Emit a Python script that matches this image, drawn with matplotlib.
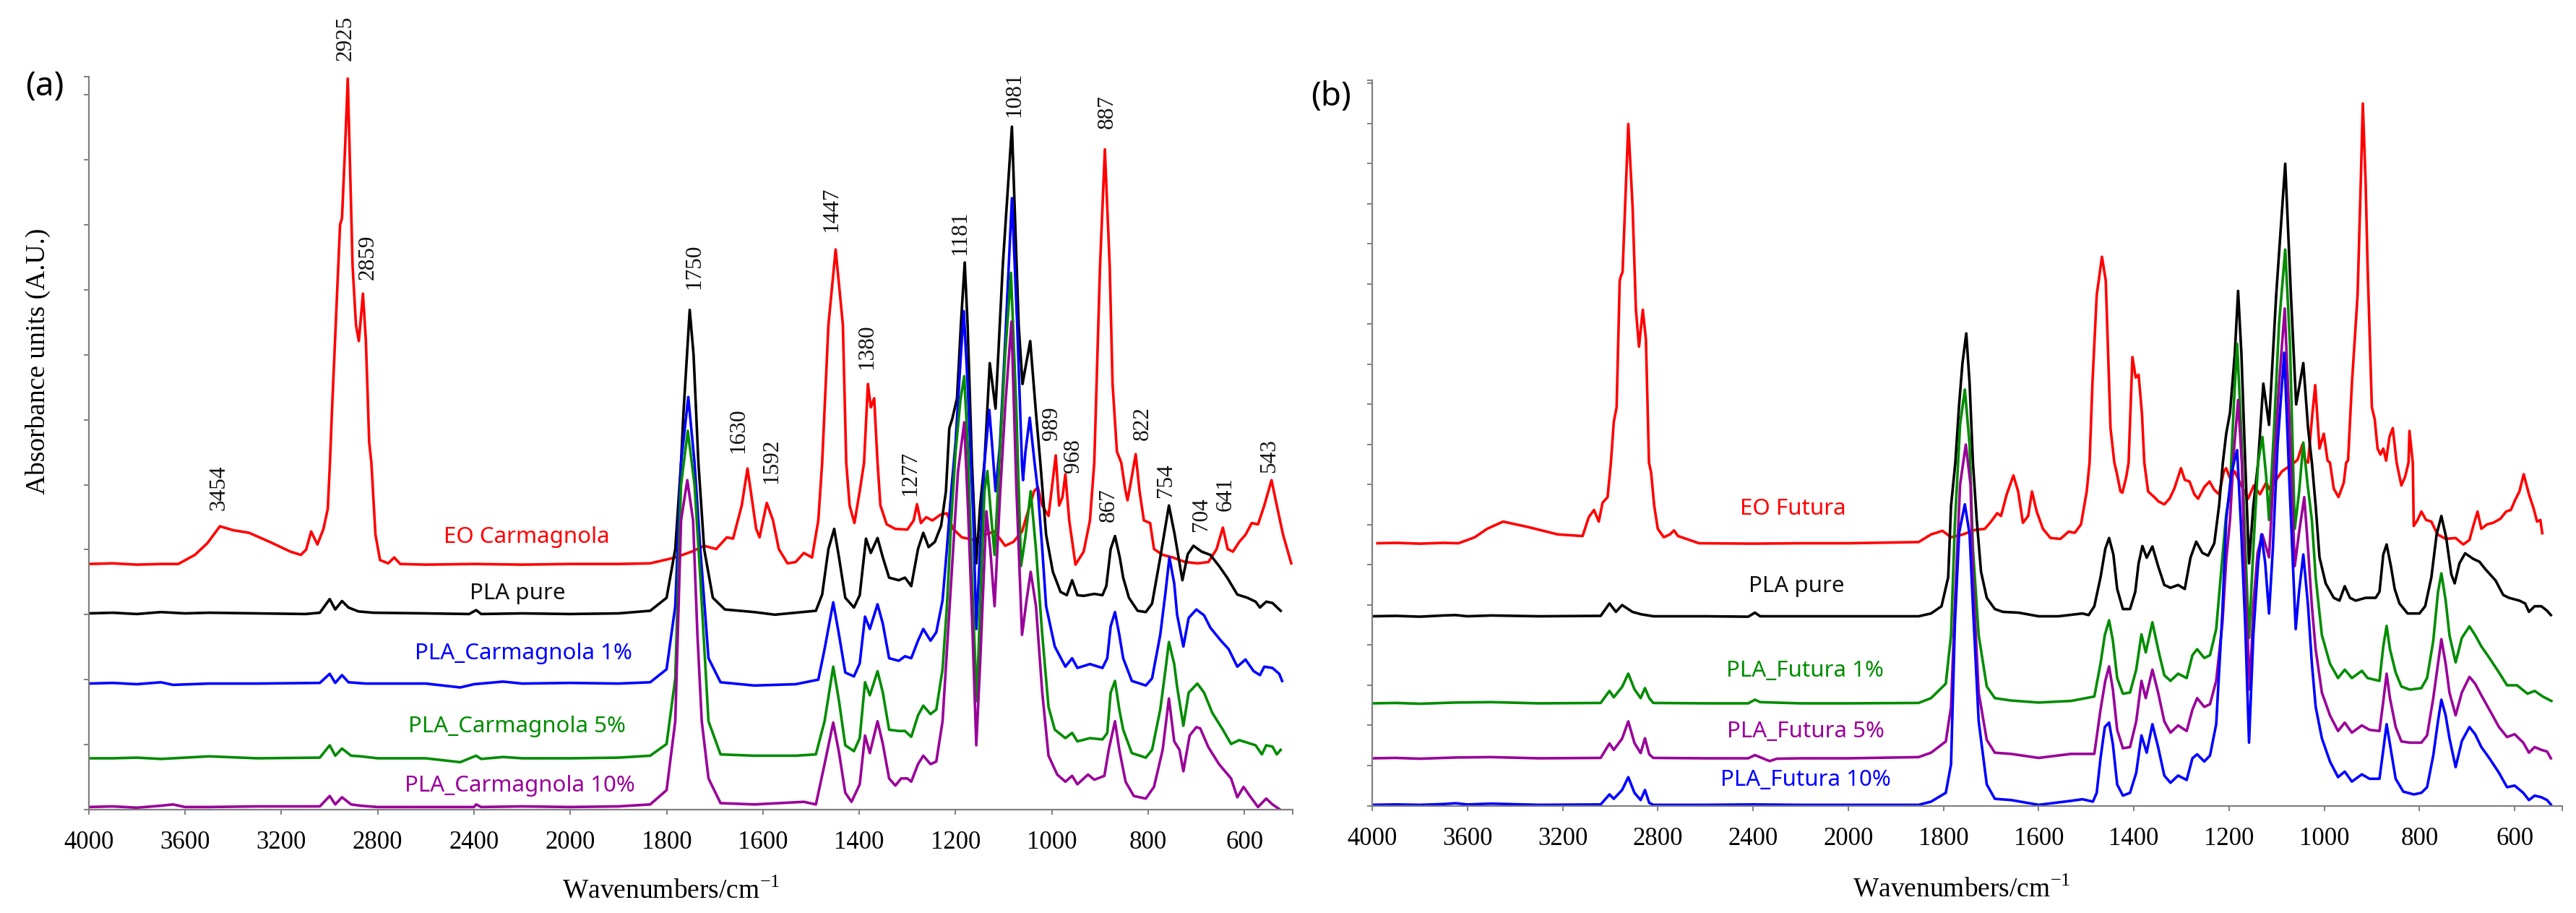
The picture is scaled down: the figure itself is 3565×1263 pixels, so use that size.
import numpy as np
import matplotlib
matplotlib.use("Agg")
import matplotlib.pyplot as plt

# Spectra: (wavenumber cm-1, absorbance in arbitrary units)
# ---- panel (a): Carmagnola ----
A_EO = [(4000, 3.78), (3900, 3.79), (3800, 3.77), (3700, 3.78), (3628, 3.78), (3559, 3.92), (3507, 4.10),
        (3455, 4.36), (3400, 4.30), (3334, 4.26), (3248, 4.12), (3162, 3.97), (3119, 3.92), (3097, 4.00),
        (3076, 4.28), (3050, 4.08), (3025, 4.32), (3007, 4.63), (2998, 5.34), (2990, 6.10), (2969, 7.90),
        (2956, 9.00), (2948, 9.10), (2935, 10.2), (2924, 11.25), (2904, 8.37), (2890, 7.46), (2878, 7.21),
        (2861, 7.94), (2849, 7.23), (2835, 5.65), (2826, 5.34), (2809, 4.23), (2790, 3.84), (2756, 3.79),
        (2731, 3.88), (2706, 3.78), (2600, 3.77), (2400, 3.78), (2200, 3.77), (2000, 3.78), (1900, 3.78),
        (1834, 3.79), (1782, 3.88), (1748, 3.97), (1722, 4.06), (1697, 4.01), (1675, 4.19), (1662, 4.17),
        (1644, 4.68), (1632, 5.25), (1614, 4.32), (1607, 4.19), (1592, 4.72), (1579, 4.45), (1567, 4.01),
        (1549, 3.79), (1532, 3.81), (1515, 3.95), (1498, 3.88), (1485, 4.45), (1477, 5.34), (1464, 7.46),
        (1449, 8.62), (1434, 7.46), (1427, 5.34), (1420, 4.68), (1410, 4.41), (1399, 4.90), (1390, 5.34),
        (1382, 6.55), (1376, 6.19), (1369, 6.33), (1362, 5.34), (1356, 4.68), (1343, 4.39), (1325, 4.32),
        (1300, 4.31), (1287, 4.45), (1280, 4.70), (1272, 4.41), (1261, 4.50), (1248, 4.45), (1231, 4.54),
        (1218, 4.56), (1205, 4.32), (1187, 4.19), (1161, 4.15), (1144, 4.22), (1119, 4.28), (1097, 4.06),
        (1080, 4.12), (1062, 4.28), (1045, 4.70), (1037, 4.90), (1029, 4.96), (1020, 4.68), (1007, 4.52),
        (992, 5.45), (985, 4.68), (978, 4.81), (972, 5.16), (964, 4.45), (951, 3.77), (934, 3.97),
        (921, 4.45), (912, 5.34), (900, 8.37), (890, 10.16), (880, 8.37), (874, 6.55), (865, 5.51),
        (856, 5.34), (848, 4.94), (843, 4.76), (837, 5.00), (826, 5.47), (818, 4.90), (809, 4.45),
        (796, 4.41), (788, 4.01), (770, 3.92), (749, 3.88), (723, 3.81), (697, 3.79), (675, 3.81),
        (658, 4.01), (645, 4.34), (635, 4.01), (624, 3.97), (611, 4.12), (598, 4.23), (585, 4.41),
        (572, 4.39), (559, 4.68), (544, 5.07), (533, 4.68), (520, 4.23), (503, 3.79)]

A_PLA = [(4000, 3.02), (3900, 3.03), (3800, 3.01), (3700, 3.04), (3600, 3.02), (3500, 3.03), (3300, 3.02),
         (3100, 3.01), (3040, 3.03), (2999, 3.24), (2976, 3.08), (2948, 3.21), (2921, 3.11), (2880, 3.05),
         (2817, 3.03), (2600, 3.02), (2420, 3.01), (2391, 3.07), (2370, 3.01), (2200, 3.02), (2000, 3.01),
         (1900, 3.02), (1834, 3.06), (1800, 3.26), (1782, 4.01), (1770, 5.34), (1765, 6.10), (1752, 7.69),
         (1744, 7.00), (1734, 5.34), (1722, 4.01), (1704, 3.26), (1679, 3.08), (1618, 3.04), (1575, 3.00),
         (1490, 3.06), (1477, 3.31), (1464, 4.01), (1452, 4.32), (1442, 3.88), (1429, 3.26), (1411, 3.11),
         (1399, 3.30), (1386, 4.17), (1376, 3.95), (1362, 4.18), (1351, 3.88), (1338, 3.57), (1318, 3.53),
         (1305, 3.57), (1292, 3.44), (1278, 4.01), (1267, 4.26), (1256, 4.04), (1243, 4.12), (1230, 4.37),
         (1220, 4.90), (1213, 5.87), (1207, 6.01), (1197, 6.33), (1189, 7.46), (1181, 8.42), (1175, 7.46),
         (1166, 5.34), (1157, 3.79), (1149, 4.68), (1140, 5.34), (1129, 6.87), (1117, 6.17), (1102, 8.37),
         (1083, 10.51), (1069, 7.46), (1061, 6.55), (1045, 7.21), (1033, 6.10), (1024, 5.34), (1012, 4.23),
         (998, 3.66), (982, 3.35), (969, 3.30), (958, 3.53), (947, 3.30), (934, 3.29), (912, 3.32),
         (895, 3.30), (887, 3.44), (878, 4.01), (869, 4.21), (859, 3.88), (852, 3.57), (840, 3.26),
         (822, 3.06), (805, 3.04), (792, 3.17), (775, 3.88), (757, 4.68), (745, 4.23), (729, 3.53),
         (718, 3.93), (706, 4.06), (689, 3.97), (671, 3.92), (653, 3.75), (636, 3.57), (615, 3.31),
         (594, 3.26), (577, 3.20), (568, 3.11), (555, 3.20), (542, 3.18), (525, 3.06)]

A_C1 = [(4000, 1.94), (3900, 1.95), (3800, 1.93), (3700, 1.96), (3650, 1.92), (3500, 1.94), (3300, 1.94),
        (3040, 1.95), (2999, 2.09), (2976, 1.95), (2948, 2.07), (2921, 1.96), (2850, 1.94), (2600, 1.94),
        (2457, 1.88), (2400, 1.93), (2279, 1.97), (2200, 1.94), (2000, 1.95), (1900, 1.94), (1834, 1.96),
        (1800, 2.16), (1782, 3.13), (1770, 5.34), (1755, 6.35), (1742, 5.34), (1730, 4.01), (1713, 2.33),
        (1688, 1.96), (1618, 1.91), (1532, 1.93), (1485, 2.00), (1472, 2.47), (1454, 3.19), (1442, 2.69),
        (1429, 2.11), (1411, 2.05), (1399, 2.25), (1388, 2.97), (1378, 2.78), (1362, 3.16), (1351, 2.86),
        (1338, 2.33), (1318, 2.29), (1305, 2.36), (1292, 2.33), (1278, 2.60), (1267, 2.78), (1252, 2.60),
        (1240, 2.73), (1227, 3.22), (1218, 4.01), (1209, 4.90), (1200, 5.65), (1189, 7.00), (1183, 7.67),
        (1175, 6.55), (1166, 5.00), (1163, 4.45), (1157, 2.78), (1149, 4.01), (1140, 5.34), (1130, 6.15),
        (1124, 5.60), (1117, 4.90), (1108, 5.60), (1097, 7.20), (1083, 9.41), (1072, 7.46), (1062, 5.30),
        (1060, 5.07), (1055, 5.50), (1046, 6.03), (1036, 5.34), (1029, 4.90), (1020, 4.01), (1012, 3.13),
        (994, 2.51), (972, 2.20), (958, 2.33), (947, 2.18), (921, 2.24), (895, 2.18), (885, 2.33),
        (878, 2.82), (869, 3.04), (860, 2.69), (852, 2.33), (834, 1.98), (817, 1.94), (805, 1.91),
        (792, 2.02), (775, 2.69), (764, 3.35), (756, 3.88), (746, 3.48), (740, 3.00), (727, 2.51),
        (716, 2.95), (700, 3.08), (684, 2.99), (671, 2.80), (649, 2.60), (633, 2.47), (615, 2.20),
        (598, 2.31), (581, 2.13), (568, 2.07), (559, 2.20), (542, 2.18), (528, 2.09), (522, 1.98)]

A_C5 = [(4000, 0.79), (3900, 0.79), (3800, 0.80), (3700, 0.78), (3600, 0.80), (3500, 0.82), (3300, 0.79),
        (3040, 0.80), (2999, 0.99), (2976, 0.83), (2948, 0.94), (2910, 0.83), (2870, 0.82), (2800, 0.79),
        (2600, 0.79), (2457, 0.73), (2391, 0.83), (2370, 0.78), (2279, 0.81), (2200, 0.79), (2000, 0.79),
        (1900, 0.80), (1834, 0.83), (1800, 1.01), (1782, 2.02), (1770, 5.00), (1756, 5.83), (1742, 5.00),
        (1730, 3.57), (1713, 1.36), (1688, 0.85), (1618, 0.83), (1532, 0.83), (1490, 0.85), (1472, 1.36),
        (1454, 2.20), (1442, 1.67), (1429, 0.99), (1411, 0.90), (1399, 1.10), (1388, 1.96), (1378, 1.76),
        (1362, 2.13), (1351, 1.80), (1338, 1.23), (1318, 1.21), (1305, 1.21), (1292, 1.12), (1278, 1.45),
        (1267, 1.60), (1252, 1.47), (1240, 1.54), (1227, 2.16), (1218, 3.13), (1209, 4.45), (1200, 5.50),
        (1190, 6.30), (1182, 6.67), (1174, 5.50), (1166, 3.57), (1156, 1.67), (1149, 3.13), (1140, 4.90),
        (1134, 5.21), (1126, 4.50), (1119, 3.92), (1108, 5.50), (1097, 7.00), (1085, 8.26), (1074, 6.20),
        (1064, 3.75), (1055, 4.20), (1044, 4.90), (1033, 4.00), (1020, 2.69), (1007, 1.58), (994, 1.23),
        (972, 1.10), (958, 1.18), (947, 1.05), (921, 1.10), (895, 1.08), (885, 1.18), (878, 1.80),
        (869, 1.98), (860, 1.54), (852, 1.23), (834, 0.87), (805, 0.80), (792, 0.92), (775, 1.54),
        (764, 2.16), (757, 2.58), (746, 2.24), (740, 1.89), (727, 1.29), (716, 1.80), (698, 1.94),
        (684, 1.80), (667, 1.49), (645, 1.23), (628, 1.01), (611, 1.07), (594, 1.03), (577, 0.99),
        (564, 0.85), (555, 0.99), (542, 0.97), (533, 0.85), (525, 0.92)]

A_C10 = [(4000, 0.04), (3900, 0.05), (3800, 0.03), (3700, 0.06), (3650, 0.08), (3600, 0.04), (3500, 0.04),
         (3300, 0.05), (3040, 0.05), (2999, 0.21), (2976, 0.08), (2948, 0.19), (2910, 0.08), (2870, 0.06),
         (2800, 0.04), (2600, 0.04), (2400, 0.04), (2391, 0.08), (2370, 0.04), (2200, 0.05), (2000, 0.04),
         (1900, 0.05), (1834, 0.08), (1800, 0.30), (1782, 1.36), (1770, 4.45), (1757, 5.07), (1745, 4.45),
         (1736, 2.69), (1727, 1.36), (1713, 0.48), (1688, 0.10), (1618, 0.08), (1515, 0.12), (1490, 0.08),
         (1472, 0.70), (1454, 1.34), (1442, 0.88), (1429, 0.26), (1416, 0.12), (1399, 0.39), (1388, 1.14),
         (1378, 0.87), (1362, 1.36), (1351, 1.01), (1338, 0.48), (1325, 0.37), (1313, 0.48), (1300, 0.48),
         (1292, 0.43), (1278, 0.70), (1267, 0.83), (1252, 0.70), (1240, 0.74), (1227, 1.36), (1216, 2.69),
         (1205, 4.01), (1195, 5.20), (1182, 5.96), (1174, 4.60), (1166, 3.00), (1157, 0.99), (1149, 2.25),
         (1136, 4.59), (1128, 4.01), (1119, 3.13), (1108, 4.80), (1097, 6.20), (1084, 7.51), (1074, 5.00),
         (1062, 2.69), (1053, 3.20), (1044, 3.66), (1033, 3.13), (1020, 1.80), (1007, 0.83), (989, 0.54),
         (972, 0.43), (958, 0.52), (947, 0.39), (925, 0.54), (912, 0.46), (891, 0.52), (882, 0.92),
         (869, 1.36), (860, 0.92), (847, 0.43), (830, 0.21), (805, 0.17), (788, 0.35), (770, 0.92),
         (757, 1.71), (746, 1.05), (735, 0.92), (727, 0.59), (714, 1.14), (700, 1.27), (692, 1.25),
         (675, 0.96), (653, 0.70), (628, 0.48), (615, 0.19), (602, 0.35), (589, 0.21), (572, 0.04),
         (555, 0.17), (542, 0.08), (528, 0.01)]

# ---- panel (b): Futura ----
B_EO = [(3978, 6.54), (3900, 6.55), (3800, 6.53), (3700, 6.55), (3638, 6.54), (3600, 6.62), (3569, 6.69),
        (3517, 6.90), (3450, 7.08), (3342, 6.94), (3220, 6.76), (3116, 6.72), (3090, 7.19), (3068, 7.37),
        (3048, 7.08), (3032, 7.55), (3011, 7.69), (2997, 8.55), (2985, 9.56), (2973, 9.93), (2960, 13.09),
        (2955, 13.20), (2948, 13.30), (2924, 16.99), (2906, 14.93), (2892, 12.36), (2879, 11.44),
        (2863, 12.36), (2850, 11.62), (2837, 8.55), (2828, 8.30), (2815, 7.47), (2800, 6.90), (2775, 6.69),
        (2749, 6.76), (2732, 6.86), (2715, 6.72), (2671, 6.63), (2627, 6.54), (2400, 6.53), (2200, 6.54),
        (2000, 6.54), (1852, 6.57), (1826, 6.76), (1802, 6.85), (1784, 6.69), (1759, 6.76), (1734, 6.87),
        (1713, 6.90), (1700, 7.08), (1687, 7.29), (1679, 7.22), (1667, 7.76), (1653, 8.23), (1643, 7.83),
        (1633, 7.05), (1622, 7.22), (1614, 7.83), (1604, 7.33), (1591, 6.90), (1575, 6.67), (1554, 6.65),
        (1537, 6.83), (1524, 6.80), (1511, 7.01), (1499, 7.83), (1493, 8.55), (1487, 10.52), (1478, 12.72),
        (1467, 13.68), (1459, 13.09), (1449, 9.41), (1441, 8.55), (1436, 8.30), (1428, 7.83), (1424, 7.80),
        (1416, 8.19), (1411, 8.55), (1403, 11.18), (1396, 10.67), (1390, 10.74), (1383, 9.78), (1378, 8.55),
        (1370, 7.83), (1357, 7.69), (1348, 7.58), (1336, 7.51), (1325, 7.65), (1315, 7.90), (1307, 8.19),
        (1301, 8.41), (1293, 8.12), (1283, 8.08), (1273, 7.76), (1265, 7.65), (1252, 7.94), (1241, 8.08),
        (1231, 7.87), (1221, 7.76), (1211, 8.33), (1206, 8.41), (1198, 8.16), (1188, 8.33), (1175, 8.00),
        (1160, 7.65), (1148, 7.98), (1135, 7.76), (1122, 8.05), (1114, 7.87), (1101, 8.12), (1089, 8.33),
        (1076, 8.44), (1063, 8.55), (1056, 8.62), (1046, 9.00), (1040, 8.60), (1034, 8.55), (1026, 9.63),
        (1019, 10.48), (1010, 8.90), (1001, 9.27), (993, 8.60), (988, 8.55), (980, 7.90), (970, 7.69),
        (959, 8.05), (954, 8.55), (950, 8.60), (942, 10.50), (930, 12.72), (923, 15.66), (919, 17.50),
        (913, 15.50), (909, 13.46), (900, 9.93), (894, 9.63), (888, 8.90), (882, 8.75), (876, 8.90),
        (870, 8.60), (863, 9.19), (856, 9.41), (848, 8.55), (838, 7.98), (830, 8.20), (823, 8.55),
        (821, 9.34), (814, 8.55), (812, 6.97), (804, 7.12), (796, 7.33), (786, 7.12), (775, 7.08),
        (762, 6.76), (745, 6.65), (724, 6.67), (708, 6.51), (695, 6.62), (687, 6.97), (678, 7.33),
        (670, 6.90), (658, 7.01), (645, 7.05), (630, 7.15), (618, 7.33), (608, 7.37), (599, 7.62),
        (590, 7.83), (581, 8.26), (570, 7.76), (560, 7.40), (553, 7.08), (546, 7.12), (542, 6.79)]

B_PLA = [(4000, 4.72), (3900, 4.73), (3800, 4.71), (3700, 4.74), (3650, 4.75), (3600, 4.72), (3500, 4.74),
         (3300, 4.72), (3040, 4.73), (3003, 5.04), (2976, 4.83), (2950, 5.00), (2907, 4.83), (2870, 4.77),
         (2819, 4.72), (2600, 4.72), (2420, 4.71), (2392, 4.81), (2370, 4.72), (2200, 4.72), (2000, 4.72),
         (1852, 4.72), (1826, 4.79), (1804, 4.97), (1790, 5.69), (1784, 7.47), (1775, 8.55), (1767, 10.00),
         (1760, 11.03), (1752, 11.77), (1745, 10.52), (1738, 8.55), (1730, 7.12), (1721, 5.83), (1709, 5.18),
         (1692, 4.90), (1675, 4.83), (1642, 4.81), (1600, 4.72), (1558, 4.72), (1508, 4.79), (1495, 4.75),
         (1483, 4.97), (1470, 5.69), (1460, 6.40), (1452, 6.67), (1443, 6.26), (1435, 5.40), (1423, 4.90),
         (1408, 4.90), (1397, 5.33), (1390, 6.04), (1382, 6.47), (1373, 6.18), (1361, 6.46), (1349, 5.97),
         (1336, 5.50), (1323, 5.43), (1307, 5.50), (1293, 5.40), (1281, 6.18), (1269, 6.58), (1256, 6.30),
         (1244, 6.23), (1231, 6.54), (1221, 7.47), (1213, 8.55), (1206, 9.27), (1198, 9.79), (1188, 11.25),
         (1181, 12.83), (1174, 11.25), (1166, 8.55), (1158, 6.04), (1149, 7.47), (1139, 8.55), (1128, 10.52),
         (1116, 9.49), (1101, 12.72), (1082, 16.00), (1070, 12.72), (1059, 10.00), (1044, 11.03),
         (1034, 9.41), (1026, 8.55), (1018, 7.47), (1010, 6.19), (997, 5.54), (980, 5.18), (968, 5.11),
         (957, 5.47), (946, 5.18), (934, 5.11), (913, 5.18), (892, 5.18), (884, 5.33), (876, 6.26),
         (869, 6.51), (860, 5.97), (852, 5.40), (842, 5.04), (825, 4.79), (800, 4.79), (788, 4.97),
         (775, 5.69), (764, 6.76), (754, 7.22), (744, 6.69), (733, 5.76), (726, 5.54), (716, 6.04),
         (704, 6.29), (687, 6.15), (674, 6.08), (662, 5.90), (640, 5.61), (624, 5.25), (612, 5.18),
         (590, 5.11), (578, 5.04), (570, 4.83), (558, 4.97), (544, 4.97), (532, 4.86), (524, 4.75)]

B_F1 = [(4000, 2.55), (3900, 2.56), (3800, 2.54), (3650, 2.57), (3500, 2.58), (3300, 2.55), (3040, 2.56),
        (3003, 2.86), (2985, 2.70), (2950, 2.96), (2924, 3.29), (2898, 2.90), (2872, 2.68), (2854, 2.93),
        (2836, 2.68), (2819, 2.56), (2600, 2.55), (2420, 2.55), (2392, 2.64), (2370, 2.58), (2200, 2.55),
        (2000, 2.55), (1852, 2.56), (1826, 2.68), (1795, 3.04), (1784, 4.25), (1776, 7.00), (1765, 9.50),
        (1755, 10.37), (1745, 9.00), (1738, 6.40), (1726, 4.25), (1709, 2.97), (1692, 2.68), (1658, 2.62),
        (1600, 2.57), (1532, 2.61), (1483, 2.72), (1470, 3.54), (1461, 4.25), (1452, 4.62), (1444, 4.11),
        (1435, 3.18), (1423, 2.79), (1408, 2.82), (1395, 3.39), (1384, 4.27), (1375, 3.82), (1361, 4.57),
        (1349, 3.90), (1336, 3.25), (1323, 3.11), (1307, 3.29), (1289, 3.18), (1277, 3.75), (1267, 3.90),
        (1252, 3.68), (1240, 3.75), (1227, 4.40), (1214, 6.19), (1206, 7.26), (1198, 7.84), (1190, 10.00),
        (1183, 11.51), (1175, 9.50), (1166, 6.50), (1158, 4.18), (1149, 6.40), (1139, 8.55), (1130, 9.19),
        (1122, 8.20), (1116, 7.12), (1105, 9.50), (1095, 12.00), (1082, 13.86), (1072, 11.50), (1062, 6.90),
        (1053, 7.80), (1044, 9.05), (1035, 8.00), (1026, 7.12), (1018, 5.69), (1005, 4.25), (988, 3.54),
        (971, 3.18), (957, 3.39), (942, 3.18), (921, 3.36), (909, 3.18), (884, 3.11), (876, 3.97),
        (869, 4.48), (862, 3.90), (850, 3.32), (838, 2.97), (820, 2.89), (796, 2.93), (784, 3.18),
        (771, 4.11), (761, 5.33), (754, 5.79), (745, 5.12), (737, 4.25), (724, 3.57), (711, 4.18),
        (695, 4.47), (683, 4.25), (670, 3.97), (653, 3.68), (633, 3.32), (616, 3.00), (595, 3.00),
        (573, 2.79), (558, 2.86), (541, 2.72), (523, 2.61)]

B_F5 = [(4000, 1.18), (3900, 1.19), (3800, 1.17), (3650, 1.20), (3500, 1.21), (3300, 1.18), (3040, 1.19),
        (3003, 1.55), (2985, 1.39), (2950, 1.67), (2924, 2.10), (2898, 1.56), (2872, 1.31), (2854, 1.68),
        (2836, 1.28), (2819, 1.19), (2600, 1.18), (2420, 1.18), (2392, 1.26), (2330, 1.11), (2300, 1.17),
        (2200, 1.18), (2000, 1.18), (1852, 1.21), (1826, 1.32), (1795, 1.60), (1784, 2.46), (1776, 5.00),
        (1765, 8.00), (1753, 9.00), (1743, 8.00), (1738, 5.69), (1726, 2.82), (1709, 1.64), (1692, 1.32),
        (1658, 1.29), (1600, 1.19), (1532, 1.29), (1483, 1.29), (1470, 2.39), (1460, 3.11), (1452, 3.47),
        (1444, 2.89), (1435, 1.89), (1423, 1.43), (1408, 1.46), (1395, 2.10), (1384, 3.11), (1375, 2.68),
        (1361, 3.39), (1349, 2.82), (1336, 2.10), (1323, 1.82), (1307, 2.00), (1289, 1.86), (1277, 2.39),
        (1267, 2.68), (1252, 2.46), (1240, 2.53), (1227, 3.11), (1214, 4.54), (1206, 6.12), (1198, 7.12),
        (1190, 8.80), (1181, 10.11), (1173, 8.50), (1166, 5.50), (1156, 2.89), (1149, 5.00), (1140, 6.30),
        (1130, 6.76), (1116, 6.19), (1105, 8.50), (1095, 10.50), (1083, 12.39), (1073, 9.50), (1062, 5.97),
        (1053, 6.80), (1042, 7.69), (1034, 6.40), (1026, 4.97), (1018, 3.89), (1005, 2.82), (988, 2.25),
        (971, 1.86), (957, 2.07), (942, 1.82), (921, 2.00), (905, 1.89), (884, 1.86), (876, 2.60),
        (869, 3.29), (862, 2.68), (850, 1.96), (838, 1.60), (820, 1.57), (796, 1.57), (784, 1.75),
        (771, 2.68), (761, 3.54), (754, 4.15), (745, 3.54), (737, 2.82), (724, 2.25), (711, 2.82),
        (695, 3.21), (683, 3.04), (670, 2.75), (653, 2.39), (633, 1.96), (616, 1.71), (600, 1.78),
        (582, 1.57), (570, 1.32), (558, 1.46), (544, 1.39), (532, 1.35), (524, 1.18)]

B_F10 = [(4000, 0.02), (3900, 0.03), (3800, 0.02), (3700, 0.04), (3650, 0.06), (3600, 0.03), (3500, 0.05),
         (3300, 0.02), (3040, 0.03), (3003, 0.28), (2985, 0.17), (2950, 0.39), (2924, 0.71), (2898, 0.32),
         (2872, 0.14), (2854, 0.39), (2836, 0.07), (2819, 0.02), (2600, 0.02), (2400, 0.03), (2200, 0.02),
         (2000, 0.02), (1852, 0.02), (1826, 0.10), (1795, 0.32), (1784, 1.03), (1776, 4.50), (1767, 6.80),
         (1755, 7.51), (1745, 6.76), (1738, 4.97), (1726, 2.11), (1709, 0.53), (1692, 0.17), (1658, 0.14),
         (1600, 0.02), (1532, 0.12), (1508, 0.16), (1486, 0.10), (1478, 0.32), (1470, 1.18), (1461, 1.96),
         (1452, 2.07), (1444, 1.53), (1435, 0.53), (1423, 0.25), (1408, 0.32), (1395, 0.82), (1384, 1.75),
         (1373, 1.32), (1361, 2.03), (1349, 1.46), (1336, 0.75), (1323, 0.57), (1307, 0.75), (1289, 0.64),
         (1277, 1.18), (1267, 1.28), (1252, 1.10), (1240, 1.25), (1227, 2.03), (1214, 4.82), (1206, 7.12),
         (1195, 8.30), (1183, 8.86), (1175, 7.00), (1166, 4.50), (1158, 1.57), (1149, 4.25), (1139, 6.04),
         (1132, 6.76), (1124, 6.04), (1116, 4.79), (1108, 6.40), (1098, 9.00), (1084, 11.29), (1073, 8.00),
         (1060, 4.40), (1053, 5.33), (1044, 6.26), (1034, 4.97), (1026, 3.54), (1018, 2.46), (1005, 1.68),
         (988, 1.10), (971, 0.71), (957, 0.85), (942, 0.60), (921, 0.78), (905, 0.67), (884, 0.67),
         (876, 1.39), (869, 2.03), (862, 1.53), (850, 0.67), (834, 0.35), (812, 0.28), (796, 0.32),
         (784, 0.46), (771, 1.25), (761, 2.11), (754, 2.64), (745, 2.25), (737, 1.68), (724, 0.96),
         (711, 1.61), (695, 1.96), (683, 1.78), (670, 1.46), (653, 1.18), (633, 0.82), (616, 0.46),
         (600, 0.50), (582, 0.32), (570, 0.14), (558, 0.25), (544, 0.21), (532, 0.14), (524, 0.03)]

RED, BLACK, BLUE, GREEN, PURPLE = "#ff0000", "#000000", "#0000ff", "#008c00", "#990099"

SERIES_A = [(A_EO, RED), (A_PLA, BLACK), (A_C1, BLUE), (A_C5, GREEN), (A_C10, PURPLE)]
SERIES_B = [(B_EO, RED), (B_PLA, BLACK), (B_F1, GREEN), (B_F5, PURPLE), (B_F10, BLUE)]

NAMES_A = ["EO Carmagnola", "PLA pure", "PLA_Carmagnola 1%", "PLA_Carmagnola 5%", "PLA_Carmagnola 10%"]
NAMES_B = ["EO Futura", "PLA pure", "PLA_Futura 1%", "PLA_Futura 5%", "PLA_Futura 10%"]
NAME_POS_A = [(2180, 4.19), (2220, 3.33), (2194, 2.40), (2220, 1.28), (2210, 0.37)]
NAME_POS_B = [(2232, 7.39), (2218, 5.47), (2183, 3.36), (2180, 1.84), (2180, 0.64)]
NAME_COL_A = [RED, "#111111", BLUE, GREEN, PURPLE]
NAME_COL_B = [RED, "#111111", GREEN, PURPLE, BLUE]

PEAKS_A = ["3454", "2925", "2859", "1750", "1630", "1592", "1447", "1380", "1277", "1181",
           "1081", "989", "968", "887", "867", "822", "754", "704", "641", "543"]
PEAK_POS_A = [(3460, 4.95), (2934, 11.87), (2840, 8.5), (1743, 8.36), (1651, 5.83), (1582, 5.36),
              (1457, 9.24), (1384, 7.12), (1294, 5.17), (1190, 8.87), (1078, 11.0), (1000, 5.94),
              (955, 5.44), (885, 10.74), (882, 4.69), (811, 5.94), (764, 5.07), (690, 4.54),
              (639, 4.86), (549, 5.45)]

XTICKS = [4000, 3600, 3200, 2800, 2400, 2000, 1800, 1600, 1400, 1200, 1000, 800, 600, 500]


def wn_to_pos(w):
    # FTIR style axis: 2x expansion below 2000 cm-1 (increasing function, axis inverted by limits)
    w = np.asarray(w, dtype=float)
    return -np.where(w >= 2000, (4000 - w) / 400.0, 5 + (2000 - w) / 200.0)


def pos_to_wn(p):
    p = -np.asarray(p, dtype=float)
    return np.where(p <= 5, 4000 - 400 * p, 2000 - 200 * (p - 5))


plt.rcParams["font.family"] = ["Liberation Serif", "DejaVu Serif"]
plt.rcParams["mathtext.fontset"] = "custom"
plt.rcParams["mathtext.rm"] = "Liberation Serif"

W, H = 3565, 1263
fig = plt.figure(figsize=(W / 100, H / 100), dpi=100)
AXIS_GRAY = "#7f7f7f"


def make_axes(left_px, right_px, top_px, bottom_px, ytop):
    ax = fig.add_axes([left_px / W, 1 - bottom_px / H, (right_px - left_px) / W, (bottom_px - top_px) / H])
    ax.set_xscale("function", functions=(wn_to_pos, pos_to_wn))
    ax.set_xlim(4000, 500)
    ax.set_ylim(0, ytop)
    ax.set_xticks(XTICKS, [str(t) if t != 500 else "" for t in XTICKS])
    yt = list(range(int(ytop) + 1)) + [ytop]
    ax.set_yticks(yt, [""] * len(yt))
    for s in ["top", "right"]:
        ax.spines[s].set_visible(False)
    for s in ["left", "bottom"]:
        ax.spines[s].set_color(AXIS_GRAY)
        ax.spines[s].set_linewidth(1.6)
    ax.tick_params(axis="both", colors=AXIS_GRAY, width=1.4, length=5, labelcolor="black")
    ax.tick_params(axis="x", labelsize=25, pad=16)
    ax.patch.set_alpha(0)
    return ax


ax_a = make_axes(122.7, 1789, 105.7, 1120, 11.283)
ax_b = make_axes(1899, 3546, 111, 1114.5, 18.08)

for ax, series in [(ax_a, SERIES_A), (ax_b, SERIES_B)]:
    for data, col in series:
        wn, ab = np.array(data).T
        ax.plot(wn, ab, color=col, lw=2.6, solid_joinstyle="round")

sans = ["Noto Sans", "DejaVu Sans"]
for ax, names, poss, cols in [(ax_a, NAMES_A, NAME_POS_A, NAME_COL_A), (ax_b, NAMES_B, NAME_POS_B, NAME_COL_B)]:
    for name, (x, y), c in zip(names, poss, cols):
        ax.text(x, y, name, color=c, fontsize=22.5, family=sans, ha="center", va="center")

for lab, (x, y) in zip(PEAKS_A, PEAK_POS_A):
    ax_a.text(x, y, lab, rotation=90, fontsize=22.5, ha="center", va="center", color="#111111")

fig.text(62 / W, 1 - 120 / H, "(a)", fontsize=33, family=sans, ha="center", va="center")
fig.text(1842 / W, 1 - 134 / H, "(b)", fontsize=33, family=sans, ha="center", va="center")

fig.text(52 / W, 1 - 500 / H, "Absorbance units (A.U.)", rotation=90, fontsize=27, ha="center", va="center")
fig.text(929 / W, 1 - 1232 / H, r"Wavenumbers/cm$^{\mathregular{-1}}$", fontsize=27, ha="center", va="center")
fig.text(2715 / W, 1 - 1230 / H, r"Wavenumbers/cm$^{\mathregular{-1}}$", fontsize=27, ha="center", va="center")

fig.savefig("out.png", dpi=100)
